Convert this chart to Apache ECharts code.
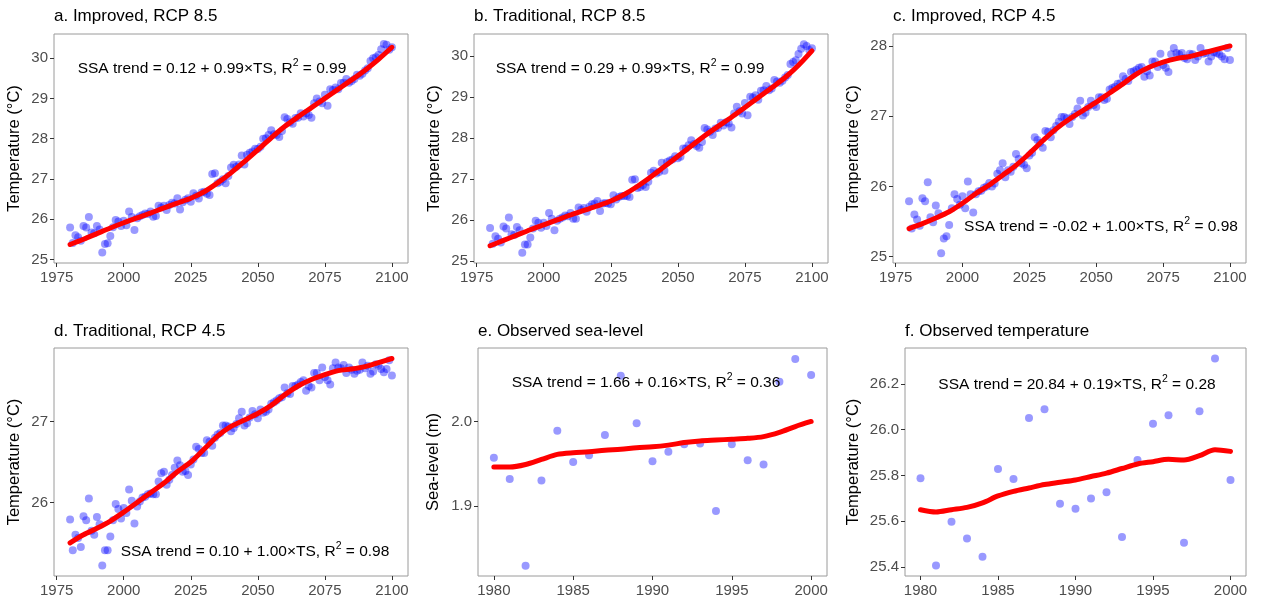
<!DOCTYPE html>
<html>
<head>
<meta charset="utf-8">
<script src="https://cdn.jsdelivr.net/npm/echarts@6/dist/echarts.min.js"></script>
<style>
  html, body { margin: 0; padding: 0; background: #fff; }
  #chart { width: 1264px; height: 601px; }
</style>
</head>
<body>
<div id="chart"></div>
<script>
// ---------- DATA ----------
const projStart = 1980, projEnd = 2100;
const yearsProj = Array.from({ length: projEnd - projStart + 1 }, (_, i) => projStart + i);
const trendYearsProj = [1980,1985,1990,1995,2000,2005,2010,2015,2020,2025,2030,2035,2040,2045,2050,2055,2060,2065,2070,2075,2080,2085,2090,2095,2100];
const yearsObs = [1980,1981,1982,1983,1984,1985,1986,1987,1988,1989,1990,1991,1992,1993,1994,1995,1996,1997,1998,1999,2000];

const titles = ['a. Improved, RCP 8.5', 'b. Traditional, RCP 8.5', 'c. Improved, RCP 4.5',
                'd. Traditional, RCP 4.5', 'e. Observed sea-level', 'f. Observed temperature'];
const yNames = ['Temperature (°C)', 'Temperature (°C)', 'Temperature (°C)',
                'Temperature (°C)', 'Sea-level (m)', 'Temperature (°C)'];
const annotations = [
  ['SSA trend = 0.12 + 0.99×TS, R', '2', ' = 0.99'],
  ['SSA trend = 0.29 + 0.99×TS, R', '2', ' = 0.99'],
  ['SSA trend = -0.02 + 1.00×TS, R', '2', ' = 0.98'],
  ['SSA trend = 0.10 + 1.00×TS, R', '2', ' = 0.98'],
  ['SSA trend = 1.66 + 0.16×TS, R', '2', ' = 0.36'],
  ['SSA trend = 20.84 + 0.19×TS, R', '2', ' = 0.28']
];

const xTicksProj = [1975, 2000, 2025, 2050, 2075, 2100];
const xTicksObs = [1980, 1985, 1990, 1995, 2000];
const yTicksA = [25, 26, 27, 28, 29, 30];
const yTicksB = [25, 26, 27, 28, 29, 30];
const yTicksC = [25, 26, 27, 28];
const yTicksD = [26, 27];
const yTicksE = [1.9, 2.0];
const yTicksF = [25.4, 25.6, 25.8, 26.0, 26.2];

const aVals = [25.79,25.41,25.6,25.55,25.46,25.83,25.79,26.05,25.67,25.65,
  25.83,25.74,25.17,25.38,25.4,25.58,25.8,25.98,25.94,25.83,
  25.96,25.85,26.19,26.05,25.73,26.02,26.07,26.1,26.14,26.13,
  26.19,26.06,26.08,26.33,26.29,26.33,26.23,26.35,26.41,26.39,
  26.52,26.24,26.42,26.48,26.52,26.43,26.64,26.58,26.51,26.66,
  26.68,26.63,26.6,27.12,27.14,26.89,26.93,26.99,26.89,27.07,
  27.28,27.35,27.3,27.36,27.58,27.36,27.6,27.65,27.68,27.75,
  27.74,27.8,28.0,28.01,28.09,28.21,28.11,28.09,28.04,28.19,
  28.53,28.49,28.41,28.37,28.51,28.52,28.63,28.55,28.63,28.59,
  28.52,28.88,29.0,28.92,28.88,29.09,28.82,29.23,29.21,29.27,
  29.23,29.38,29.39,29.48,29.39,29.43,29.48,29.59,29.56,29.61,
  29.69,29.75,29.93,30.0,30.02,30.08,30.22,30.35,30.33,30.21,
  30.27];
const bVals = [25.8,25.42,25.6,25.54,25.45,25.84,25.79,26.06,25.65,25.63,
  25.83,25.75,25.2,25.4,25.4,25.57,25.79,25.98,25.93,25.81,
  25.93,25.85,26.17,26.03,25.75,25.98,26.03,26.06,26.11,26.09,
  26.17,26.03,26.03,26.3,26.25,26.29,26.2,26.32,26.38,26.4,
  26.46,26.22,26.4,26.41,26.4,26.38,26.6,26.5,26.56,26.58,
  26.58,26.58,26.56,26.98,26.99,26.78,26.8,26.85,26.8,26.93,
  27.15,27.2,27.13,27.17,27.39,27.2,27.41,27.45,27.47,27.55,
  27.5,27.54,27.74,27.74,27.82,27.94,27.85,27.8,27.76,27.9,
  28.24,28.2,28.15,28.07,28.23,28.24,28.37,28.3,28.38,28.35,
  28.25,28.59,28.76,28.65,28.59,28.85,28.55,29.0,28.98,29.04,
  28.93,29.15,29.16,29.26,29.16,29.2,29.41,29.37,29.34,29.39,
  29.47,29.53,29.8,29.85,29.89,30.04,30.17,30.28,30.24,30.14,
  30.18];
const cVals = [25.79,25.4,25.6,25.53,25.44,25.83,25.79,26.06,25.56,25.49,
  25.73,25.62,25.05,25.26,25.29,25.45,25.69,25.89,25.82,25.74,
  25.86,25.69,26.07,25.89,25.63,25.89,25.93,25.94,25.98,26.0,
  26.05,26.0,26.04,26.18,26.23,26.33,26.13,26.23,26.21,26.28,
  26.46,26.39,26.33,26.31,26.26,26.44,26.48,26.7,26.66,26.62,
  26.55,26.79,26.78,26.7,26.8,26.86,26.92,26.99,26.99,26.97,
  26.89,26.99,27.03,27.11,27.22,27.01,27.05,27.13,27.22,27.16,
  27.13,27.27,27.27,27.23,27.25,27.38,27.4,27.42,27.46,27.47,
  27.57,27.53,27.5,27.63,27.64,27.66,27.69,27.7,27.56,27.64,
  27.58,27.78,27.78,27.7,27.89,27.73,27.69,27.63,27.88,27.97,
  27.9,27.88,27.9,27.83,27.81,27.89,27.88,27.8,27.85,27.97,
  27.89,27.9,27.78,27.85,27.91,27.9,27.88,27.85,27.81,27.97,
  27.8];
const dVals = [25.79,25.41,25.6,25.56,25.45,25.83,25.78,26.05,25.65,25.6,
  25.82,25.73,25.22,25.41,25.41,25.58,25.78,25.98,25.92,25.8,
  25.93,25.87,26.16,26.02,25.74,25.95,26.01,26.06,26.07,26.1,
  26.11,26.1,26.1,26.26,26.36,26.38,26.22,26.28,26.34,26.43,
  26.52,26.46,26.38,26.39,26.34,26.47,26.53,26.69,26.66,26.61,
  26.61,26.77,26.75,26.7,26.8,26.84,26.86,26.95,26.95,26.94,
  26.88,26.92,26.97,27.04,27.12,26.95,26.98,27.05,27.13,27.09,
  27.04,27.15,27.11,27.12,27.15,27.22,27.24,27.26,27.29,27.3,
  27.42,27.35,27.34,27.44,27.44,27.46,27.49,27.51,27.38,27.44,
  27.42,27.6,27.6,27.51,27.67,27.55,27.51,27.46,27.66,27.73,
  27.67,27.66,27.7,27.6,27.67,27.64,27.59,27.63,27.64,27.73,
  27.66,27.69,27.59,27.62,27.71,27.69,27.65,27.61,27.65,27.76,
  27.57];
const eVals = [1.957,1.932,1.829,1.930,1.989,1.952,1.960,1.984,2.054,1.998,
  1.953,1.964,1.973,1.974,1.894,1.973,1.954,1.949,2.047,2.074,2.055];
const fVals = [25.787,25.406,25.597,25.524,25.444,25.828,25.784,26.051,26.089,25.676,
  25.654,25.699,25.726,25.530,25.867,26.026,26.063,25.505,26.080,26.311,25.780];

const aTrend = [25.37,25.5,25.64,25.78,25.91,26.03,26.15,26.28,26.4,26.52,26.68,26.9,27.15,27.43,27.72,28.02,28.3,28.54,28.77,29.0,29.23,29.46,29.7,29.97,30.27];
const bTrend = [25.37,25.5,25.63,25.76,25.88,26.0,26.12,26.23,26.34,26.46,26.62,26.82,27.05,27.3,27.55,27.8,28.05,28.28,28.5,28.74,28.98,29.22,29.47,29.77,30.12];
const cTrend = [25.4,25.47,25.55,25.64,25.76,25.9,26.02,26.16,26.3,26.47,26.65,26.82,26.96,27.08,27.2,27.33,27.46,27.6,27.7,27.77,27.82,27.85,27.9,27.95,28.0];
const dTrend = [25.5,25.6,25.68,25.77,25.88,26.0,26.12,26.24,26.38,26.5,26.66,26.82,26.94,27.02,27.1,27.2,27.33,27.44,27.52,27.58,27.63,27.65,27.68,27.73,27.78];
const eTrend = [1.946,1.946,1.949,1.955,1.961,1.963,1.964,1.966,1.967,1.969,1.970,1.972,1.975,1.977,1.978,1.979,1.980,1.982,1.987,1.994,2.0];
const fTrend = [25.65,25.64,25.65,25.66,25.68,25.71,25.73,25.745,25.76,25.77,25.78,25.795,25.81,25.83,25.85,25.86,25.87,25.867,25.886,25.912,25.905];

// ---------- LAYOUT ----------
const FONT = '"Liberation Sans", Arial, Helvetica, sans-serif';
const panels = [
  { grid: { left: 54, top: 34, width: 354, height: 229 }, x: [1974, 2106], y: [24.91, 30.6], xt: xTicksProj, yt: yTicksA, dec: 0, nameGap: 31,
    pts: [yearsProj, aVals], tr: [trendYearsProj, aTrend], ann: [212, 67], titleTop: 8 },
  { grid: { left: 474, top: 34, width: 354, height: 229 }, x: [1974, 2106], y: [24.95, 30.53], xt: xTicksProj, yt: yTicksB, dec: 0, nameGap: 31,
    pts: [yearsProj, bVals], tr: [trendYearsProj, bTrend], ann: [630, 67], titleTop: 8 },
  { grid: { left: 893, top: 34, width: 353, height: 229 }, x: [1974, 2106], y: [24.91, 28.17], xt: xTicksProj, yt: yTicksC, dec: 0, nameGap: 31,
    pts: [yearsProj, cVals], tr: [trendYearsProj, cTrend], ann: [1101, 225], titleTop: 8 },
  { grid: { left: 54, top: 348, width: 354, height: 228 }, x: [1974, 2106], y: [25.09, 27.91], xt: xTicksProj, yt: yTicksD, dec: 0, nameGap: 31,
    pts: [yearsProj, dVals], tr: [trendYearsProj, dTrend], ann: [255, 550], titleTop: 323 },
  { grid: { left: 478, top: 348, width: 349, height: 228 }, x: [1979, 2001], y: [1.817, 2.087], xt: xTicksObs, yt: yTicksE, dec: 1, nameGap: 36,
    pts: [yearsObs, eVals], tr: [yearsObs, eTrend], ann: [646, 381], titleTop: 323 },
  { grid: { left: 905, top: 348, width: 341, height: 228 }, x: [1979, 2001], y: [25.36, 26.357], xt: xTicksObs, yt: yTicksF, dec: 1, nameGap: 43,
    pts: [yearsObs, fVals], tr: [yearsObs, fTrend], ann: [1077, 383], titleTop: 323 }
];

const zip = (xs, ys) => xs.map((x, i) => [x, ys[i]]);

const option = {
  backgroundColor: '#ffffff',
  animation: false,
  textStyle: { fontFamily: FONT },
  title: panels.map((p, i) => ({
    text: titles[i], left: p.grid.left, top: p.titleTop, padding: 0,
    textStyle: { fontFamily: FONT, fontSize: 17, fontWeight: 'normal', color: '#000' }
  })),
  grid: panels.map(p => Object.assign({ show: true, borderColor: '#9a9a9a', borderWidth: 1, backgroundColor: '#fff' }, p.grid)),
  xAxis: panels.map((p, i) => ({
    type: 'value', gridIndex: i, min: p.x[0], max: p.x[1],
    splitLine: { show: false },
    axisLine: { show: false },
    axisTick: { show: true, length: 4, customValues: p.xt, lineStyle: { color: '#333', width: 1 } },
    axisLabel: { customValues: p.xt, margin: 7, fontSize: 15, color: '#4d4d4d', fontFamily: FONT,
      formatter: v => String(Math.round(v)) }
  })),
  yAxis: panels.map((p, i) => ({
    type: 'value', gridIndex: i, min: p.y[0], max: p.y[1],
    name: yNames[i], nameLocation: 'middle', nameGap: p.nameGap, nameRotate: 90,
    nameTextStyle: { fontSize: 16.5, color: '#000', fontFamily: FONT },
    splitLine: { show: false },
    axisLine: { show: false },
    axisTick: { show: true, length: 4, customValues: p.yt, lineStyle: { color: '#333', width: 1 } },
    axisLabel: { customValues: p.yt, margin: 6, fontSize: 15, color: '#4d4d4d', fontFamily: FONT,
      formatter: v => Number(v).toFixed(p.dec) }
  })),
  series: panels.flatMap((p, i) => [
    { type: 'scatter', xAxisIndex: i, yAxisIndex: i, data: zip(p.pts[0], p.pts[1]),
      symbolSize: 8, itemStyle: { color: 'rgba(0,0,255,0.5)' }, z: 2, silent: true },
    { type: 'line', xAxisIndex: i, yAxisIndex: i, data: zip(p.tr[0], p.tr[1]),
      smooth: 0.3, showSymbol: false, lineStyle: { color: '#ff0000', width: 5, cap: 'round' }, z: 3, silent: true }
  ]),
  graphic: panels.map((p, i) => ({
    type: 'text', x: p.ann[0], y: p.ann[1], z: 10,
    style: {
      text: '{n|' + annotations[i][0] + '}{s|' + annotations[i][1] + '}{n|' + annotations[i][2] + '}',
      textAlign: 'center', textVerticalAlign: 'middle',
      rich: {
        n: { fontSize: 15.5, fontFamily: FONT, fill: '#000', color: '#000', lineHeight: 19, verticalAlign: 'bottom' },
        s: { fontSize: 10.5, fontFamily: FONT, fill: '#000', color: '#000', lineHeight: 19, verticalAlign: 'top' }
      }
    }
  }))
};

const chart = echarts.init(document.getElementById('chart'), null, { renderer: 'canvas' });
chart.setOption(option);
</script>
</body>
</html>
